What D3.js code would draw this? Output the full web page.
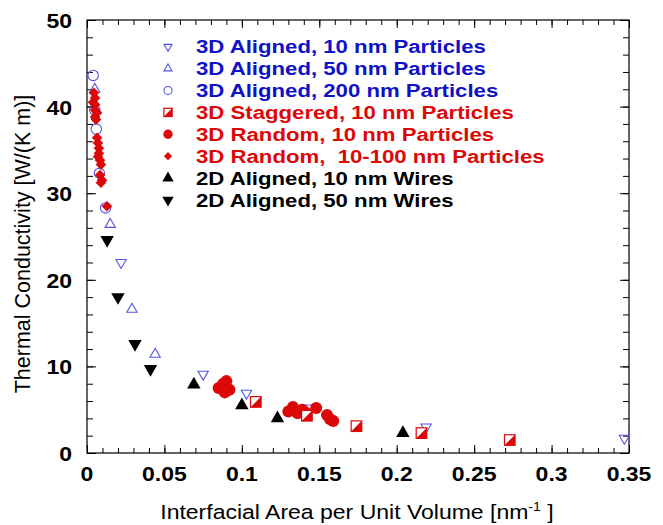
<!DOCTYPE html>
<html>
<head>
<meta charset="utf-8">
<script src="https://cdn.jsdelivr.net/npm/d3@7"></script>
<style>
  body { margin: 0; background: #fff; }
  svg { display: block; font-family: Arial, "Liberation Sans", sans-serif; }
</style>
</head>
<body>
<svg id="chart" width="663" height="525"></svg>
<script>
// Thermal conductivity vs. interfacial area per unit volume, by nanostructure type.
// Each point is [interfacial area (nm^-1), conductivity (W/(K m))].
const aligned10 = [[0.022, 22.0], [0.075, 9.1], [0.103, 6.9], [0.144, 5.2], [0.219, 3.0], [0.347, 1.7]];
const aligned50 = [[0.005, 42.0], [0.015, 26.4], [0.029, 16.6], [0.044, 11.4]];
const aligned200 = [[0.004, 43.6], [0.005, 39.6], [0.006, 37.4], [0.008, 32.3], [0.012, 28.3]];
const staggered10 = [[0.109, 5.9], [0.142, 4.3], [0.174, 3.1], [0.216, 2.3], [0.273, 1.5]];
const random10 = [[0.085, 7.5], [0.088, 8.0], [0.090, 8.3], [0.092, 7.3], [0.089, 7.0],
                  [0.130, 4.8], [0.133, 5.3], [0.136, 4.6], [0.139, 5.0], [0.141, 4.7],
                  [0.148, 5.2], [0.155, 4.4], [0.157, 3.9], [0.159, 3.7]];
const random10to100 = [[0.0045, 41.6], [0.0052, 41.0], [0.0039, 40.5], [0.0052, 40.2], [0.0052, 39.6],
                       [0.0065, 39.3], [0.0052, 38.8], [0.0058, 38.5], [0.0065, 36.4], [0.0071, 35.8],
                       [0.0077, 35.2], [0.0077, 34.6], [0.0071, 34.2], [0.0084, 33.8], [0.0090, 33.3],
                       [0.0084, 32.1], [0.0097, 31.5], [0.0090, 31.2], [0.0129, 28.5]];
const wires10 = [[0.069, 7.9], [0.100, 5.5], [0.123, 4.0], [0.204, 2.3]];
const wires50 = [[0.013, 24.6], [0.020, 18.0], [0.031, 12.6], [0.041, 9.7]];

const legendLabels = [
  "3D Aligned, 10 nm Particles",
  "3D Aligned, 50 nm Particles",
  "3D Aligned, 200 nm Particles",
  "3D Staggered, 10 nm Particles",
  "3D Random, 10 nm Particles",
  "3D Random,\u00a0 10-100 nm Particles",
  "2D Aligned, 10 nm Wires",
  "2D Aligned, 50 nm Wires"
];
const xTickValues = [0, 0.05, 0.1, 0.15, 0.2, 0.25, 0.3, 0.35];
const xTickLabels = ["0", "0.05", "0.1", "0.15", "0.2", "0.25", "0.3", "0.35"];
const yTickValues = [0, 10, 20, 30, 40, 50];
const yTickLabels = ["0", "10", "20", "30", "40", "50"];

const BLUE_TEXT = "#1010c8";
const BLUE_MARK = "#5555e6";
const RED = "#dc0808";
const BLACK = "#000";
const WIDE = 1.18;   // horizontal widening applied to the lettering

const svg = d3.select("#chart");
const plotLeft = 87, plotRight = 629, plotTop = 20, plotBottom = 453;
const x = d3.scaleLinear().domain([0, 0.35]).range([plotLeft, plotRight]);
const y = d3.scaleLinear().domain([0, 50]).range([plotBottom, plotTop]);

// ---- marker shapes (paths centred on 0,0) ----
const triPath = s => d3.symbol(d3.symbolTriangle, s)();

function drawMarker(g, kind, cx, cy, scale) {
  const t = `translate(${cx},${cy})`;
  const k2 = scale * scale;
  if (kind === "triDown") {
    g.append("path").attr("d", triPath(46 * k2)).attr("transform", t + " rotate(180)")
      .attr("fill", "none").attr("stroke", BLUE_MARK).attr("stroke-width", 1.1);
  } else if (kind === "triUp") {
    g.append("path").attr("d", triPath(46 * k2)).attr("transform", t)
      .attr("fill", "none").attr("stroke", BLUE_MARK).attr("stroke-width", 1.1);
  } else if (kind === "openCircle") {
    g.append("circle").attr("cx", cx).attr("cy", cy).attr("r", 5.2 * scale)
      .attr("fill", "none").attr("stroke", BLUE_MARK).attr("stroke-width", 1.1);
  } else if (kind === "staggered") {
    const h = 5.3 * scale;
    g.append("rect").attr("x", cx - h).attr("y", cy - h).attr("width", 2 * h).attr("height", 2 * h)
      .attr("fill", "#fff").attr("stroke", RED).attr("stroke-width", 1.2);
    g.append("path").attr("d", `M${cx + h},${cy - h}L${cx + h},${cy + h}L${cx - h},${cy + h}Z`)
      .attr("fill", RED);
  } else if (kind === "dot") {
    g.append("circle").attr("cx", cx).attr("cy", cy).attr("r", 6 * scale).attr("fill", RED);
  } else if (kind === "diamond") {
    g.append("path").attr("d", d3.symbol(d3.symbolSquare, 56 * k2)()).attr("transform", t + " rotate(45)")
      .attr("fill", RED);
  } else if (kind === "fillUp") {
    g.append("path").attr("d", triPath(78 * k2)).attr("transform", t).attr("fill", BLACK);
  } else if (kind === "fillDown") {
    g.append("path").attr("d", triPath(78 * k2)).attr("transform", t + " rotate(180)")
      .attr("fill", BLACK);
  }
}

const series = [
  { data: aligned10, kind: "triDown" },
  { data: aligned50, kind: "triUp" },
  { data: aligned200, kind: "openCircle" },
  { data: random10, kind: "dot" },
  { data: staggered10, kind: "staggered" },
  { data: random10to100, kind: "diamond" },
  { data: wires10, kind: "fillUp" },
  { data: wires50, kind: "fillDown" }
];
const legendOrder = ["triDown", "triUp", "openCircle", "staggered", "dot", "diamond", "fillUp", "fillDown"];

// ---- axes: inward ticks on all four sides ----
function tickAxis(axisFn, scale, values, size, transform) {
  svg.append("g").attr("transform", transform)
    .call(axisFn(scale).tickValues(values).tickSize(size).tickFormat(""))
    .call(g => g.select(".domain").remove())
    .call(g => g.selectAll("line").attr("stroke", "#000").attr("stroke-width", 1));
}
const xMinor = d3.range(0, 36).map(i => i / 100);
const yMinor = d3.range(0, 26).map(i => i * 2);
tickAxis(d3.axisBottom, x, xMinor, -5, `translate(0,${plotBottom})`);
tickAxis(d3.axisBottom, x, xTickValues, -8, `translate(0,${plotBottom})`);
tickAxis(d3.axisTop, x, xMinor, -5, `translate(0,${plotTop})`);
tickAxis(d3.axisTop, x, xTickValues, -8, `translate(0,${plotTop})`);
tickAxis(d3.axisLeft, y, yMinor, -6, `translate(${plotLeft},0)`);
tickAxis(d3.axisLeft, y, yTickValues, -9, `translate(${plotLeft},0)`);
tickAxis(d3.axisRight, y, yMinor, -6, `translate(${plotRight},0)`);
tickAxis(d3.axisRight, y, yTickValues, -9, `translate(${plotRight},0)`);

svg.append("rect").attr("x", plotLeft).attr("y", plotTop)
  .attr("width", plotRight - plotLeft).attr("height", plotBottom - plotTop)
  .attr("fill", "none").attr("stroke", "#000").attr("stroke-width", 1.2);

// tick labels
svg.append("g").selectAll("text").data(xTickValues).join("text")
  .attr("transform", d => `translate(${x(d)},481) scale(${WIDE},1)`)
  .attr("text-anchor", "middle").attr("font-size", 19.5).attr("font-weight", "bold")
  .text((d, i) => xTickLabels[i]);
svg.append("g").selectAll("text").data(yTickValues).join("text")
  .attr("transform", d => `translate(72,${y(d) + 8}) scale(${WIDE},1)`)
  .attr("text-anchor", "end").attr("font-size", 19.5).attr("font-weight", "bold")
  .text((d, i) => yTickLabels[i]);

// axis titles
const xt = svg.append("text").attr("transform", `translate(357,519) scale(${WIDE},1)`)
  .attr("text-anchor", "middle").attr("font-size", 19.5);
xt.append("tspan").text("Interfacial Area per Unit Volume [nm");
xt.append("tspan").attr("font-size", 12).attr("dy", -8).text("-1");
xt.append("tspan").attr("dy", 8).text(" ]");

svg.append("text").attr("transform", "translate(30,244) rotate(-90)")
  .attr("text-anchor", "middle").attr("font-size", 21.5)
  .text("Thermal Conductivity [W/(K m)]");

// ---- data points ----
const plot = svg.append("g");
series.forEach(s => {
  const g = plot.append("g");
  s.data.forEach(([a, b]) => drawMarker(g, s.kind, x(a), y(b), 1));
});

// ---- legend ----
const legendX = 168, legendTextX = 196, legendY0 = 53.3, legendStep = 21.9;
const legendColors = [BLUE_TEXT, BLUE_TEXT, BLUE_TEXT, RED, RED, RED, BLACK, BLACK];
const lg = svg.append("g");
legendLabels.forEach((label, i) => {
  const by = legendY0 + i * legendStep;
  const kind = legendOrder[i];
  const sc = (kind === "fillUp" || kind === "fillDown") ? 0.85 : 0.78;
  drawMarker(lg, kind, legendX, by - 6.6, sc);
  lg.append("text").attr("transform", `translate(${legendTextX},${by}) scale(${WIDE},1)`)
    .attr("font-size", 18.8).attr("font-weight", "bold").attr("fill", legendColors[i])
    .text(label);
});
</script>
</body>
</html>
